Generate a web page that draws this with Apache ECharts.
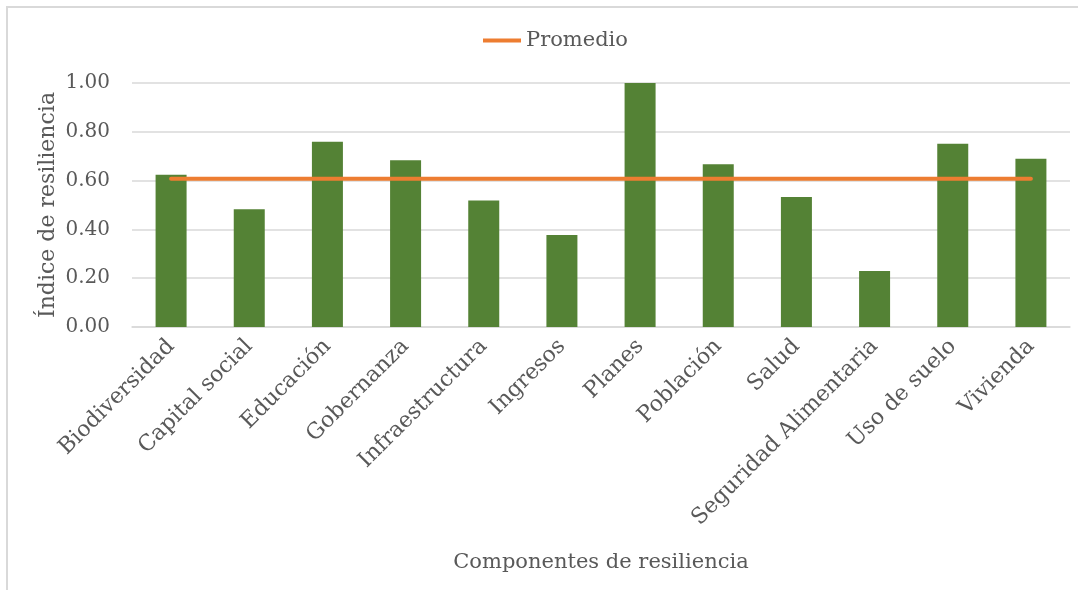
<!DOCTYPE html>
<html>
<head lang="es">
    <meta charset="UTF-8">
    <title>Índice de resiliencia</title>
    <style>
        html, body { margin: 0; padding: 0; background: #fff; }
        #chart { width: 1078px; height: 590px; }
    </style>
</head>
<body>
<div id="chart"></div>
<script src="https://cdn.jsdelivr.net/npm/echarts@6/dist/echarts.min.js"></script>
<script>
    // datos
    var categorias = ['Biodiversidad', 'Capital social', 'Educación', 'Gobernanza', 'Infraestructura',
        'Ingresos', 'Planes', 'Población', 'Salud', 'Seguridad Alimentaria', 'Uso de suelo', 'Vivienda'];
    var indices = [0.624, 0.483, 0.759, 0.683, 0.518, 0.377, 1.00, 0.667, 0.533, 0.229, 0.751, 0.690];
    var promedio = [0.608, 0.608, 0.608, 0.608, 0.608, 0.608, 0.608, 0.608, 0.608, 0.608, 0.608, 0.608];

    var fuente = 'DejaVu Serif';
    var gris = '#595959';

    var myChart = echarts.init(document.getElementById('chart'));
    var option = {
        animation: false,
        textStyle: { fontFamily: fuente, color: gris },
        graphic: [{
            type: 'rect',
            shape: { x: 7, y: 7, width: 1090, height: 600 },
            style: { fill: 'none', stroke: '#D9D9D9', lineWidth: 2 },
            silent: true
        }],
        legend: {
            data: ['Promedio'],
            top: 25,
            left: 478,
            icon: 'rect',
            itemWidth: 38,
            itemHeight: 4,
            itemGap: 4,
            textStyle: { fontFamily: fuente, fontSize: 21, color: gris }
        },
        grid: {
            left: 132,
            right: 8,
            top: 83,
            bottom: 263
        },
        xAxis: {
            type: 'category',
            data: categorias,
            name: 'Componentes de resiliencia',
            nameLocation: 'middle',
            nameGap: 225,
            nameMoveOverlap: false,
            nameTextStyle: { fontFamily: fuente, fontSize: 21, color: gris },
            axisLine: { lineStyle: { color: '#D9D9D9', width: 1.5 } },
            axisTick: { show: false },
            axisLabel: {
                rotate: 45,
                interval: 0,
                fontFamily: fuente,
                fontSize: 22,
                color: gris,
                margin: 16
            }
        },
        yAxis: {
            type: 'value',
            min: 0,
            max: 1,
            interval: 0.2,
            name: 'Índice de resiliencia',
            nameLocation: 'middle',
            nameRotate: 90,
            nameGap: 73,
            nameMoveOverlap: false,
            nameTextStyle: { fontFamily: fuente, fontSize: 22, color: gris },
            axisLine: { show: false },
            axisTick: { show: false },
            axisLabel: {
                fontFamily: fuente,
                fontSize: 20,
                color: gris,
                margin: 22,
                formatter: function (v) { return v.toFixed(2); }
            },
            splitLine: { lineStyle: { color: '#D9D9D9', width: 1.5 } }
        },
        series: [
            {
                name: 'Índice',
                type: 'bar',
                data: indices,
                barWidth: 31,
                itemStyle: { color: '#548235' }
            },
            {
                name: 'Promedio',
                type: 'line',
                data: promedio,
                symbol: 'none',
                lineStyle: { color: '#ED7D31', width: 4, cap: 'round' },
                itemStyle: { color: '#ED7D31' }
            }
        ]
    };
    myChart.setOption(option);
</script>
</body>
</html>
